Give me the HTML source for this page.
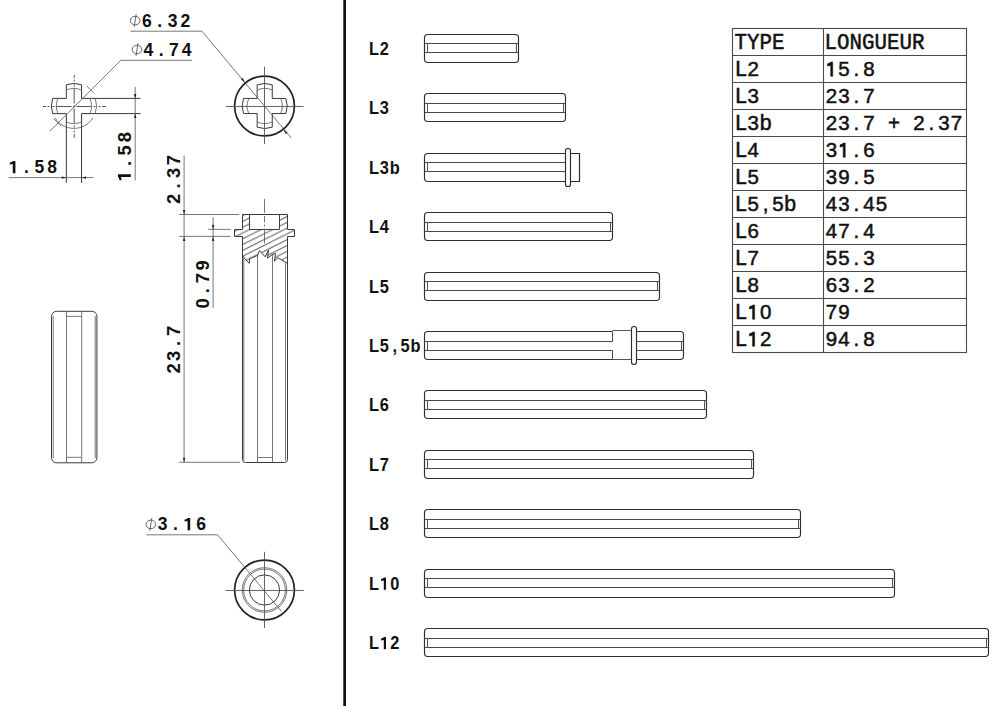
<!DOCTYPE html>
<html><head><meta charset="utf-8"><style>
html,body{margin:0;padding:0;background:#fff;}
body{width:1000px;height:707px;overflow:hidden;}
svg{display:block;}
.po{fill:none;stroke:#2e2e2e;stroke-width:1.15;}
.po2{fill:none;stroke:#2a2a2a;stroke-width:1.2;}
.pi{fill:none;stroke:#484848;stroke-width:1;}
.pv{fill:none;stroke:#555;stroke-width:1;}
.pt{fill:none;stroke:#444;stroke-width:0.9;}
.lab{font-family:"Liberation Sans",sans-serif;font-weight:bold;font-size:17.6px;fill:#111;}
.tb{fill:none;stroke:#4a4a4a;stroke-width:1.1;}
.tc{font-family:"Liberation Mono",monospace;font-size:20.8px;fill:#111;stroke:#111;stroke-width:0.5;}
.ts{font-family:"Liberation Sans",sans-serif;font-size:20.5px;fill:#111;stroke:#111;stroke-width:0.5;}
.tm{font-family:"Liberation Mono",monospace;font-size:21.5px;}
.dsh{font-family:"Liberation Sans",sans-serif;font-weight:bold;font-size:17.5px;fill:#111;}
.dsv{font-family:"Liberation Sans",sans-serif;font-weight:bold;font-size:18.4px;fill:#111;}
.ln{fill:none;stroke:#3a3a3a;stroke-width:1;}
.lt{fill:none;stroke:#555;stroke-width:0.8;}
.cl{fill:none;stroke:#555;stroke-width:1;}
.cl2{fill:none;stroke:#555;stroke-width:0.9;}
.lk{fill:none;stroke:#222;stroke-width:1.7;}
.ar{fill:#222;stroke:none;}
.ph{fill:none;stroke:#444;stroke-width:0.8;}
.dim{font-family:"Liberation Mono",monospace;font-weight:bold;font-size:18px;letter-spacing:2.1px;fill:#111;}
.dimh{font-family:"Liberation Mono",monospace;font-weight:bold;font-size:18px;letter-spacing:2.2px;fill:#111;}
.dimv{font-family:"Liberation Mono",monospace;font-weight:bold;font-size:19px;letter-spacing:1.2px;fill:#111;}
</style></head><body>
<svg width="1000" height="707" viewBox="0 0 1000 707">
<rect x="343.3" y="0" width="2.7" height="706" fill="#111"/>
<path class="ln" d="M66.35 98.40V84.72A22.6 22.6 0 0 1 81.55 84.72V98.40H140.50M81.55 113.60H140.50M81.55 113.60V182.80M66.35 182.80V113.60H52.67A22.6 22.6 0 0 1 52.67 98.40H66.35"/>
<path class="lt" d="M66.35 90.13A17.6 17.6 0 0 1 81.55 90.13M89.82 98.40A17.6 17.6 0 0 1 89.82 113.60M81.55 121.87A17.6 17.6 0 0 1 66.35 121.87M58.08 113.60A17.6 17.6 0 0 1 58.08 98.40"/>
<path class="lt" d="M95.23 98.40A22.6 22.6 0 0 1 95.23 113.60"/>
<path class="lt" d="M92.95 117.87A22.4 22.4 0 0 1 54.95 117.87"/>
<path class="cl" d="M43.0 106.5H46.0M47.5 106.5H49.5M52.5 106.5H54.5M56.5 106.5H71.5M73.2 106.5H74.8M76.5 106.5H91.5M93.5 106.5H95.5M98.5 106.5H100.5M102.0 106.5H105.8M74.2 75.0V78.0M74.2 79.5V81.5M74.2 84.5V86.5M74.2 88.5V103.5M74.2 105.2V106.8M74.2 108.5V123.5M74.2 125.5V127.5M74.2 130.5V132.5M74.2 134.0V137.8"/>
<path class="lt" d="M191.8 60.3H120.8L49.7 131.4"/>
<path class="lt" d="M86.5 85.8L94.1 93.4"/>
<path class="lt" d="M53.6 118.7L61.2 126.3"/>
<path class="lt" d="M8.6 177.6H93.4"/>
<path class="ar" d="M66.3 177.6L61.8 178.8L61.8 176.4Z"/>
<path class="ar" d="M81.5 177.6L86.0 176.4L86.0 178.8Z"/>
<g transform="translate(13.4 173.3)"><text class="dsh" text-anchor="middle" y="0"><tspan x="12.95">.</tspan><tspan x="25.90">5</tspan><tspan x="38.85">8</tspan></text><path fill="#111" d="M-0.61 0.00L2.01 0.00L2.01 -12.25L-0.26 -12.25L-1.31 -11.46L-3.67 -10.67L-3.67 -8.75L-0.61 -9.28Z"/></g>
<path class="lt" d="M135.2 87V180.4"/>
<path class="ar" d="M135.2 98.4L134.0 93.9L136.4 93.9Z"/>
<path class="ar" d="M135.2 113.6L136.4 118.1L134.0 118.1Z"/>
<g transform="translate(130.8 176.4) rotate(-90)"><text class="dsv" text-anchor="middle" y="0"><tspan x="13.05">.</tspan><tspan x="26.10">5</tspan><tspan x="39.15">8</tspan></text><path fill="#111" d="M-0.64 0.00L2.12 0.00L2.12 -12.88L-0.28 -12.88L-1.38 -12.05L-3.86 -11.22L-3.86 -9.20L-0.64 -9.75Z"/></g>
<ellipse class="ph" cx="135.2" cy="20.6" rx="4.8" ry="4.3"/><path class="ph" d="M136.2 14.3L134.2 26.9"/>
<g transform="translate(146.85 26.6)"><text class="dsh" text-anchor="middle" y="0"><tspan x="0.00">6</tspan><tspan x="12.85">.</tspan><tspan x="25.70">3</tspan><tspan x="38.55">2</tspan></text></g>
<path class="lt" d="M130.6 31.2H202L291.2 138"/>
<ellipse class="ph" cx="137.0" cy="49.5" rx="4.8" ry="4.3"/><path class="ph" d="M138.0 43.2L136.0 55.8"/>
<g transform="translate(148.4 55.5)"><text class="dsh" text-anchor="middle" y="0"><tspan x="0.00">4</tspan><tspan x="12.73">.</tspan><tspan x="25.46">7</tspan><tspan x="38.19">4</tspan></text></g>
<circle class="lk" cx="264.5" cy="106.0" r="29.9"/>
<path class="ln" d="M257.15 98.45V84.80A22.5 22.5 0 0 1 272.25 84.80V98.45H285.90A22.5 22.5 0 0 1 285.90 113.55H272.25V127.20A22.5 22.5 0 0 1 257.15 127.20V113.55H243.50A22.5 22.5 0 0 1 243.50 98.45H257.15"/>
<path class="lt" d="M257.15 90.10A17.6 17.6 0 0 1 272.25 90.10M280.60 98.45A17.6 17.6 0 0 1 280.60 113.55M272.25 121.90A17.6 17.6 0 0 1 257.15 121.90M248.80 113.55A17.6 17.6 0 0 1 248.80 98.45"/>
<path class="cl2" d="M226 106.5H303.6M264.5 66.7V144.2"/>
<path class="ar" d="M245.1 82.6L241.0 79.5L242.8 78.0Z"/>
<path class="ar" d="M283.4 129.4L287.5 132.5L285.7 134.0Z"/>
<circle class="lk" cx="264.5" cy="590.0" r="29.9"/>
<circle class="lt" cx="264.5" cy="590.0" r="22.3"/>
<circle class="lt" cx="264.5" cy="590.0" r="20.9"/>
<circle class="ln" cx="264.5" cy="590.0" r="15.1"/>
<path class="cl2" d="M225.4 590.5H303.7M264.5 551.8V628"/>
<ellipse class="ph" cx="150.8" cy="524.4" rx="4.8" ry="4.3"/><path class="ph" d="M151.8 518.1L149.8 530.7"/>
<g transform="translate(162.55 530.3)"><text class="dsh" text-anchor="middle" y="0"><tspan x="0.00">3</tspan><tspan x="12.82">.</tspan><tspan x="38.46">6</tspan></text><path fill="#111" d="M25.03 0.00L27.65 0.00L27.65 -12.25L25.38 -12.25L24.33 -11.46L21.96 -10.67L21.96 -8.75L25.03 -9.28Z"/></g>
<path class="lt" d="M146.4 534.8H217.6L281.5 611.5"/>
<defs><pattern id="hatch" patternUnits="userSpaceOnUse" width="11.6" height="5.8" patternTransform="translate(0 0.5)"><path d="M-1 6.3L12.6 -0.5M-12.6 6.3L1 -0.5M10.6 6.3L24.2 -0.5" stroke="#333" stroke-width="0.9" fill="none"/></pattern><clipPath id="secclip"><path d="M242.5 214.5H249.5V229.5H279.5V214.5H287.5V229.5H294.5V236.5H287.5V263.3L287.5 263.3L277.6 257.6L274.5 261.3L275.4 253.4L272.0 254.8L267.4 258.2L268.6 250.0L265.2 256.8L259.5 250.6L257.5 255.4L249.6 258.8L249.3 263.3L244.8 258.8L242.5 255.1V236.5H234.5V229.5H242.5Z"/></clipPath></defs>
<rect x="230" y="210" width="70" height="60" fill="url(#hatch)" clip-path="url(#secclip)"/>
<path class="ln" d="M242.5 214.5H249.5V229.5H279.5V214.5H287.5V229.5H294.5V236.5H287.5V263.3L287.5 263.3L277.6 257.6L274.5 261.3L275.4 253.4L272.0 254.8L267.4 258.2L268.6 250.0L265.2 256.8L259.5 250.6L257.5 255.4L249.6 258.8L249.3 263.3L244.8 258.8L242.5 255.1V236.5H234.5V229.5H242.5Z"/>
<path class="ln" d="M249.5 214.5H279.5"/>
<path class="lt" d="M264.5 199V213M264.5 216V222.5M264.5 224.5V226.5M264.5 228.5V243.5"/>
<path class="ln" d="M242.5 255V459.5Q242.5 462.5 245.5 462.5H284.5Q287.5 462.5 287.5 459.5V263"/>
<path class="lt" d="M243.8 258V460.5M285.5 263V460.5"/>
<path class="lt" d="M257.5 255.4V462.5M272.5 255V462.5M257.5 457.5H272.5"/>
<path class="lt" d="M179.2 214.5H239.3M179.2 236.4H230.8M208.2 229.4H230.8M179.1 462.3H240"/>
<path class="lt" d="M184.1 155.5V462.3"/>
<path class="ar" d="M184.1 214.5L182.9 210.0L185.3 210.0Z"/>
<path class="ar" d="M184.1 236.4L185.3 240.9L182.9 240.9Z"/>
<path class="ar" d="M184.1 462.3L182.9 457.8L185.3 457.8Z"/>
<path class="lt" d="M213.1 217.3V308"/>
<path class="ar" d="M213.1 229.4L211.9 224.9L214.3 224.9Z"/>
<path class="ar" d="M213.1 236.4L214.3 240.9L211.9 240.9Z"/>
<g transform="translate(180.0 198.8) rotate(-90)"><text class="dsv" text-anchor="middle" y="0"><tspan x="0.00">2</tspan><tspan x="12.93">.</tspan><tspan x="25.86">3</tspan><tspan x="38.79">7</tspan></text></g>
<g transform="translate(208.6 303.3) rotate(-90)"><text class="dsv" text-anchor="middle" y="0"><tspan x="0.00">0</tspan><tspan x="12.65">.</tspan><tspan x="25.30">7</tspan><tspan x="37.95">9</tspan></text></g>
<g transform="translate(179.6 368.3) rotate(-90)"><text class="dsv" text-anchor="middle" y="0"><tspan x="0.00">2</tspan><tspan x="12.47">3</tspan><tspan x="24.94">.</tspan><tspan x="37.41">7</tspan></text></g>
<rect class="ln" x="51.5" y="311.3" width="45.4" height="151.5" rx="5"/>
<path class="lt" d="M53.2 316V458M95.2 316V458"/>
<path class="lt" d="M66.5 311.3V462.8M81.7 311.3V462.8M66.5 316.4H81.7M66.5 457.3H81.7"/>
<g transform="translate(374.0 54.7) scale(0.93 1)"><text class="lab" text-anchor="middle" y="0"><tspan x="0.00">L</tspan><tspan x="11.16">2</tspan></text></g><g transform="translate(374.0 114.16) scale(0.93 1)"><text class="lab" text-anchor="middle" y="0"><tspan x="0.00">L</tspan><tspan x="11.16">3</tspan></text></g><g transform="translate(374.0 173.62) scale(0.93 1)"><text class="lab" text-anchor="middle" y="0"><tspan x="0.00">L</tspan><tspan x="11.16">3</tspan><tspan x="22.31">b</tspan></text></g><g transform="translate(374.0 233.08) scale(0.93 1)"><text class="lab" text-anchor="middle" y="0"><tspan x="0.00">L</tspan><tspan x="11.16">4</tspan></text></g><g transform="translate(374.0 292.54) scale(0.93 1)"><text class="lab" text-anchor="middle" y="0"><tspan x="0.00">L</tspan><tspan x="11.16">5</tspan></text></g><g transform="translate(374.0 352.0) scale(0.93 1)"><text class="lab" text-anchor="middle" y="0"><tspan x="0.00">L</tspan><tspan x="11.16">5</tspan><tspan x="22.31">,</tspan><tspan x="33.47">5</tspan><tspan x="44.62">b</tspan></text></g><g transform="translate(374.0 411.46) scale(0.93 1)"><text class="lab" text-anchor="middle" y="0"><tspan x="0.00">L</tspan><tspan x="11.16">6</tspan></text></g><g transform="translate(374.0 470.92) scale(0.93 1)"><text class="lab" text-anchor="middle" y="0"><tspan x="0.00">L</tspan><tspan x="11.16">7</tspan></text></g><g transform="translate(374.0 530.38) scale(0.93 1)"><text class="lab" text-anchor="middle" y="0"><tspan x="0.00">L</tspan><tspan x="11.16">8</tspan></text></g><g transform="translate(374.0 589.84) scale(0.93 1)"><text class="lab" text-anchor="middle" y="0"><tspan x="0.00">L</tspan><tspan x="22.31">0</tspan></text><path fill="#111" d="M10.54 0.00L12.92 0.00L12.92 -12.32L10.89 -12.32L9.84 -11.53L7.64 -10.74L7.64 -8.80L10.54 -9.33Z"/></g><g transform="translate(374.0 649.3) scale(0.93 1)"><text class="lab" text-anchor="middle" y="0"><tspan x="0.00">L</tspan><tspan x="22.31">2</tspan></text><path fill="#111" d="M10.54 0.00L12.92 0.00L12.92 -12.32L10.89 -12.32L9.84 -11.53L7.64 -10.74L7.64 -8.80L10.54 -9.33Z"/></g>
<path class="po" d="M515.3 34.5H427.7Q424.5 34.5 424.5 37.7V59.3Q424.5 62.5 427.7 62.5H515.3Q518.5 62.5 518.5 59.3V37.7Q518.5 34.5 515.3 34.5"/>
<path class="pi" d="M424.5 43.5H518.5M424.5 52.5H518.5"/>
<path class="pv" d="M427.5 43.5V52.5M516.5 43.5V52.5"/>
<path class="po" d="M562.3 93.5H427.7Q424.5 93.5 424.5 96.7V118.3Q424.5 121.5 427.7 121.5H562.3Q565.5 121.5 565.5 118.3V96.7Q565.5 93.5 562.3 93.5"/>
<path class="pi" d="M424.5 103.5H565.5M424.5 112.5H565.5"/>
<path class="pv" d="M427.5 103.5V112.5M563.5 103.5V112.5"/>
<path class="po" d="M565.5 153.5H427.7Q424.5 153.5 424.5 156.7V178.3Q424.5 181.5 427.7 181.5H565.5"/>
<path class="pi" d="M424.5 162.5H565.5M424.5 171.5H565.5"/>
<path class="pv" d="M427.5 162.5V171.5"/>
<rect class="po" x="565.5" y="148.5" width="5" height="38.0" rx="2.3"/>
<path class="po2" d="M570.5 153.5H579.5V181.5H570.5"/>
<path class="po" d="M609.3 212.5H427.7Q424.5 212.5 424.5 215.7V237.3Q424.5 240.5 427.7 240.5H609.3Q612.5 240.5 612.5 237.3V215.7Q612.5 212.5 609.3 212.5"/>
<path class="pi" d="M424.5 222.5H612.5M424.5 231.5H612.5"/>
<path class="pv" d="M427.5 222.5V231.5M610.5 222.5V231.5"/>
<path class="po" d="M656.3 272.5H427.7Q424.5 272.5 424.5 275.7V297.3Q424.5 300.5 427.7 300.5H656.3Q659.5 300.5 659.5 297.3V275.7Q659.5 272.5 656.3 272.5"/>
<path class="pi" d="M424.5 281.5H659.5M424.5 290.5H659.5"/>
<path class="pv" d="M427.5 281.5V290.5M657.5 281.5V290.5"/>
<path class="po" d="M612.5 331.5H427.7Q424.5 331.5 424.5 334.7V356.3Q424.5 359.5 427.7 359.5H612.5"/>
<path class="pi" d="M424.5 341.5H612.5V331.5M424.5 350.5H612.5V359.5"/>
<path class="pv" d="M427.5 341.5V350.5"/>
<path class="pt" d="M612.5 330.5H631.5M612.5 359.5H631.5"/>
<rect class="po" x="631.5" y="326.5" width="5.0" height="38.0" rx="2.4"/>
<path class="po" d="M680.3 331.5H636.5M636.5 359.5H680.3Q683.5 359.5 683.5 356.3V334.7Q683.5 331.5 680.3 331.5"/>
<path class="pi" d="M636.5 341.5H683.5M636.5 350.5H683.5"/>
<path class="pv" d="M681.5 341.5V350.5"/>
<path class="po" d="M703.3 390.5H427.7Q424.5 390.5 424.5 393.7V415.3Q424.5 418.5 427.7 418.5H703.3Q706.5 418.5 706.5 415.3V393.7Q706.5 390.5 703.3 390.5"/>
<path class="pi" d="M424.5 400.5H706.5M424.5 409.5H706.5"/>
<path class="pv" d="M427.5 400.5V409.5M704.5 400.5V409.5"/>
<path class="po" d="M750.3 450.5H427.7Q424.5 450.5 424.5 453.7V475.3Q424.5 478.5 427.7 478.5H750.3Q753.5 478.5 753.5 475.3V453.7Q753.5 450.5 750.3 450.5"/>
<path class="pi" d="M424.5 459.5H753.5M424.5 468.5H753.5"/>
<path class="pv" d="M427.5 459.5V468.5M751.5 459.5V468.5"/>
<path class="po" d="M797.3 509.5H427.7Q424.5 509.5 424.5 512.7V534.3Q424.5 537.5 427.7 537.5H797.3Q800.5 537.5 800.5 534.3V512.7Q800.5 509.5 797.3 509.5"/>
<path class="pi" d="M424.5 519.5H800.5M424.5 528.5H800.5"/>
<path class="pv" d="M427.5 519.5V528.5M798.5 519.5V528.5"/>
<path class="po" d="M891.3 569.5H427.7Q424.5 569.5 424.5 572.7V594.3Q424.5 597.5 427.7 597.5H891.3Q894.5 597.5 894.5 594.3V572.7Q894.5 569.5 891.3 569.5"/>
<path class="pi" d="M424.5 578.5H894.5M424.5 587.5H894.5"/>
<path class="pv" d="M427.5 578.5V587.5M892.5 578.5V587.5"/>
<path class="po" d="M985.3 628.5H427.7Q424.5 628.5 424.5 631.7V653.3Q424.5 656.5 427.7 656.5H985.3Q988.5 656.5 988.5 653.3V631.7Q988.5 628.5 985.3 628.5"/>
<path class="pi" d="M424.5 638.5H988.5M424.5 647.5H988.5"/>
<path class="pv" d="M427.5 638.5V647.5M986.5 638.5V647.5"/>
<rect class="tb" x="732.5" y="28.5" width="234.0" height="324.0"/>
<path class="tb" d="M823.5 28.5V352.5M732.5 55.5H966.5M732.5 82.5H966.5M732.5 109.5H966.5M732.5 136.5H966.5M732.5 163.5H966.5M732.5 190.5H966.5M732.5 217.5H966.5M732.5 244.5H966.5M732.5 271.5H966.5M732.5 298.5H966.5M732.5 325.5H966.5"/>
<text class="tc" transform="translate(734.6 49.3) scale(1 1.09)">TYPE</text>
<text class="tc" transform="translate(824.6 49.3) scale(1 1.09)">LONGUEUR</text>
<g transform="translate(741.0 76.3)"><text class="ts" text-anchor="middle" y="0"><tspan x="0.00" class="tm">L</tspan><tspan x="12.30">2</tspan></text></g>
<g transform="translate(831.4 76.3)"><text class="ts" text-anchor="middle" y="0"><tspan x="12.50">5</tspan><tspan x="25.00">.</tspan><tspan x="37.50">8</tspan></text><path fill="#111" stroke="#111" stroke-width="0.5" d="M-0.72 0.00L1.33 0.00L1.33 -14.35L-0.31 -14.35L-1.54 -13.43L-3.90 -12.50L-3.90 -10.25L-0.72 -10.87Z"/></g>
<g transform="translate(741.0 103.3)"><text class="ts" text-anchor="middle" y="0"><tspan x="0.00" class="tm">L</tspan><tspan x="12.30">3</tspan></text></g>
<g transform="translate(831.4 103.3)"><text class="ts" text-anchor="middle" y="0"><tspan x="0.00">2</tspan><tspan x="12.50">3</tspan><tspan x="25.00">.</tspan><tspan x="37.50">7</tspan></text></g>
<g transform="translate(741.0 130.3)"><text class="ts" text-anchor="middle" y="0"><tspan x="0.00" class="tm">L</tspan><tspan x="12.30">3</tspan><tspan x="24.60" class="tm">b</tspan></text></g>
<g transform="translate(831.4 130.3)"><text class="ts" text-anchor="middle" y="0"><tspan x="0.00">2</tspan><tspan x="12.50">3</tspan><tspan x="25.00">.</tspan><tspan x="37.50">7</tspan><tspan x="62.50">+</tspan><tspan x="87.50">2</tspan><tspan x="100.00">.</tspan><tspan x="112.50">3</tspan><tspan x="125.00">7</tspan></text></g>
<g transform="translate(741.0 157.3)"><text class="ts" text-anchor="middle" y="0"><tspan x="0.00" class="tm">L</tspan><tspan x="12.30">4</tspan></text></g>
<g transform="translate(831.4 157.3)"><text class="ts" text-anchor="middle" y="0"><tspan x="0.00">3</tspan><tspan x="25.00">.</tspan><tspan x="37.50">6</tspan></text><path fill="#111" stroke="#111" stroke-width="0.5" d="M11.78 0.00L13.83 0.00L13.83 -14.35L12.19 -14.35L10.96 -13.43L8.61 -12.50L8.61 -10.25L11.78 -10.87Z"/></g>
<g transform="translate(741.0 184.3)"><text class="ts" text-anchor="middle" y="0"><tspan x="0.00" class="tm">L</tspan><tspan x="12.30">5</tspan></text></g>
<g transform="translate(831.4 184.3)"><text class="ts" text-anchor="middle" y="0"><tspan x="0.00">3</tspan><tspan x="12.50">9</tspan><tspan x="25.00">.</tspan><tspan x="37.50">5</tspan></text></g>
<g transform="translate(741.0 211.3)"><text class="ts" text-anchor="middle" y="0"><tspan x="0.00" class="tm">L</tspan><tspan x="12.30">5</tspan><tspan x="24.60">,</tspan><tspan x="36.90">5</tspan><tspan x="49.20" class="tm">b</tspan></text></g>
<g transform="translate(831.4 211.3)"><text class="ts" text-anchor="middle" y="0"><tspan x="0.00">4</tspan><tspan x="12.50">3</tspan><tspan x="25.00">.</tspan><tspan x="37.50">4</tspan><tspan x="50.00">5</tspan></text></g>
<g transform="translate(741.0 238.3)"><text class="ts" text-anchor="middle" y="0"><tspan x="0.00" class="tm">L</tspan><tspan x="12.30">6</tspan></text></g>
<g transform="translate(831.4 238.3)"><text class="ts" text-anchor="middle" y="0"><tspan x="0.00">4</tspan><tspan x="12.50">7</tspan><tspan x="25.00">.</tspan><tspan x="37.50">4</tspan></text></g>
<g transform="translate(741.0 265.3)"><text class="ts" text-anchor="middle" y="0"><tspan x="0.00" class="tm">L</tspan><tspan x="12.30">7</tspan></text></g>
<g transform="translate(831.4 265.3)"><text class="ts" text-anchor="middle" y="0"><tspan x="0.00">5</tspan><tspan x="12.50">5</tspan><tspan x="25.00">.</tspan><tspan x="37.50">3</tspan></text></g>
<g transform="translate(741.0 292.3)"><text class="ts" text-anchor="middle" y="0"><tspan x="0.00" class="tm">L</tspan><tspan x="12.30">8</tspan></text></g>
<g transform="translate(831.4 292.3)"><text class="ts" text-anchor="middle" y="0"><tspan x="0.00">6</tspan><tspan x="12.50">3</tspan><tspan x="25.00">.</tspan><tspan x="37.50">2</tspan></text></g>
<g transform="translate(741.0 319.3)"><text class="ts" text-anchor="middle" y="0"><tspan x="0.00" class="tm">L</tspan><tspan x="24.60">0</tspan></text><path fill="#111" stroke="#111" stroke-width="0.5" d="M11.58 0.00L13.63 0.00L13.63 -14.35L11.99 -14.35L10.76 -13.43L8.41 -12.50L8.41 -10.25L11.58 -10.87Z"/></g>
<g transform="translate(831.4 319.3)"><text class="ts" text-anchor="middle" y="0"><tspan x="0.00">7</tspan><tspan x="12.50">9</tspan></text></g>
<g transform="translate(741.0 346.3)"><text class="ts" text-anchor="middle" y="0"><tspan x="0.00" class="tm">L</tspan><tspan x="24.60">2</tspan></text><path fill="#111" stroke="#111" stroke-width="0.5" d="M11.58 0.00L13.63 0.00L13.63 -14.35L11.99 -14.35L10.76 -13.43L8.41 -12.50L8.41 -10.25L11.58 -10.87Z"/></g>
<g transform="translate(831.4 346.3)"><text class="ts" text-anchor="middle" y="0"><tspan x="0.00">9</tspan><tspan x="12.50">4</tspan><tspan x="25.00">.</tspan><tspan x="37.50">8</tspan></text></g>
</svg>
</body></html>
